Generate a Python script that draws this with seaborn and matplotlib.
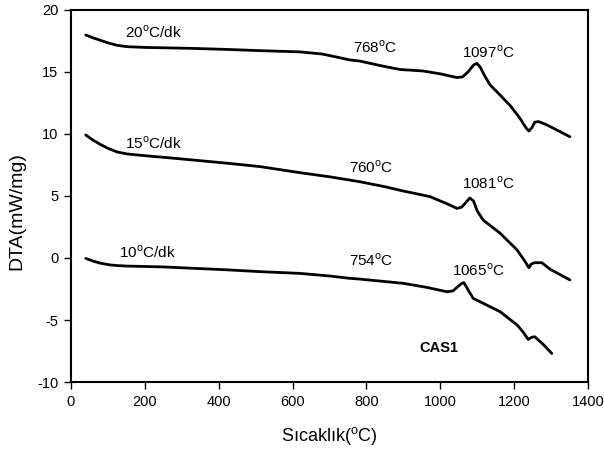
import matplotlib
matplotlib.use("Agg")
import matplotlib.pyplot as plt
import seaborn as sns
import pandas as pd

# Data
t20 = [40, 60, 80, 100, 125, 152, 200, 250, 331, 420, 512, 620, 680, 720, 755, 782, 840, 891, 953, 1000, 1045, 1060, 1075, 1090, 1099, 1108, 1120, 1135, 1160, 1189, 1215, 1232, 1240, 1248, 1256, 1266, 1289, 1320, 1351]
v20 = [17.98, 17.75, 17.55, 17.35, 17.15, 17.04, 16.98, 16.95, 16.9, 16.82, 16.72, 16.62, 16.45, 16.2, 15.97, 15.88, 15.5, 15.2, 15.08, 14.85, 14.55, 14.6, 15.0, 15.55, 15.7, 15.4, 14.7, 13.95, 13.2, 12.3, 11.3, 10.5, 10.24, 10.5, 10.95, 11.0, 10.73, 10.25, 9.78]

t15 = [40, 60, 80, 100, 125, 152, 200, 250, 331, 420, 512, 620, 700, 782, 850, 900, 972, 1020, 1045, 1058, 1070, 1080, 1090, 1100, 1116, 1162, 1208, 1230, 1240, 1246, 1255, 1275, 1297, 1325, 1351]
v15 = [9.92, 9.5, 9.15, 8.85, 8.55, 8.39, 8.25, 8.12, 7.9, 7.65, 7.37, 6.88, 6.55, 6.15, 5.75, 5.4, 4.95, 4.35, 4.0, 4.1, 4.5, 4.84, 4.6, 3.8, 3.06, 2.0, 0.65, -0.3, -0.78, -0.5, -0.38, -0.38, -0.9, -1.35, -1.77]

t10 = [40, 60, 80, 106, 130, 152, 250, 331, 420, 512, 620, 700, 755, 782, 899, 960, 1018, 1034, 1048, 1058, 1064, 1072, 1089, 1116, 1162, 1208, 1225, 1238, 1247, 1256, 1280, 1302]
v10 = [-0.03, -0.25, -0.42, -0.56, -0.62, -0.65, -0.72, -0.83, -0.95, -1.1, -1.24, -1.45, -1.64, -1.7, -2.04, -2.35, -2.72, -2.66, -2.3, -2.05, -1.99, -2.4, -3.25, -3.65, -4.33, -5.4, -6.0, -6.56, -6.4, -6.35, -7.0, -7.7]

rates = ["20$^{\\rm o}$C/dk", "15$^{\\rm o}$C/dk", "10$^{\\rm o}$C/dk"]
peak_labels = ["768$^{\\rm o}$C", "1097$^{\\rm o}$C", "760$^{\\rm o}$C", "1081$^{\\rm o}$C", "754$^{\\rm o}$C", "1065$^{\\rm o}$C"]
xticks = [0, 200, 400, 600, 800, 1000, 1200, 1400]
yticks = [-10, -5, 0, 5, 10, 15, 20]

df = pd.concat([
    pd.DataFrame({"T": t20, "DTA": v20, "rate": "20"}),
    pd.DataFrame({"T": t15, "DTA": v15, "rate": "15"}),
    pd.DataFrame({"T": t10, "DTA": v10, "rate": "10"}),
])

sns.set_style("white")
plt.rcParams['font.family'] = ['Liberation Sans', 'DejaVu Sans']
plt.rcParams['mathtext.fontset'] = 'custom'
plt.rcParams['mathtext.rm'] = 'Liberation Sans'
plt.rcParams['axes.unicode_minus'] = False
for k in ['text.color', 'axes.labelcolor', 'xtick.color', 'ytick.color']:
    plt.rcParams[k] = 'black'

fig = plt.figure(figsize=(6.04, 4.53), dpi=100)
ax = fig.add_axes([0.1175, 0.1567, 0.856, 0.8213])

sns.lineplot(data=df, x="T", y="DTA", units="rate", estimator=None, sort=False,
             color="black", linewidth=2.0, ax=ax)

ax.set_xlim(0, 1400)
ax.set_ylim(-10, 20)
ax.set_xticks(xticks)
ax.set_yticks(yticks)
ax.tick_params(axis='both', direction='out', length=5, width=1, color='black',
               labelsize=10.5, left=True, bottom=True, pad=4)
for s in ax.spines.values():
    s.set_color('black')
    s.set_linewidth(1.5)
    s.set_visible(True)

ax.set_xlabel("Sıcaklık($^{\\rm o}$C)", fontsize=13)
ax.set_ylabel("DTA(mW/mg)", fontsize=14)
ax.xaxis.set_label_coords(0.5, -0.115)
ax.yaxis.set_label_coords(-0.089, 0.46)

fs = 11
ax.text(146, 18.2, rates[0], fontsize=fs, ha='left', va='center')
ax.text(146, 9.27, rates[1], fontsize=fs, ha='left', va='center')
ax.text(131, 0.48, rates[2], fontsize=fs, ha='left', va='center')
ax.text(823, 17.0, peak_labels[0], fontsize=fs, ha='center', va='center')
ax.text(1130, 16.6, peak_labels[1], fontsize=fs, ha='center', va='center')
ax.text(812, 7.34, peak_labels[2], fontsize=fs, ha='center', va='center')
ax.text(1130, 6.05, peak_labels[3], fontsize=fs, ha='center', va='center')
ax.text(812, -0.16, peak_labels[4], fontsize=fs, ha='center', va='center')
ax.text(1103, -0.97, peak_labels[5], fontsize=fs, ha='center', va='center')
ax.text(995, -7.26, "CAS1", fontsize=10.5, fontweight='bold', ha='center', va='center')

if ax.get_legend() is not None:
    ax.get_legend().remove()

fig.savefig("out.png", dpi=100)
